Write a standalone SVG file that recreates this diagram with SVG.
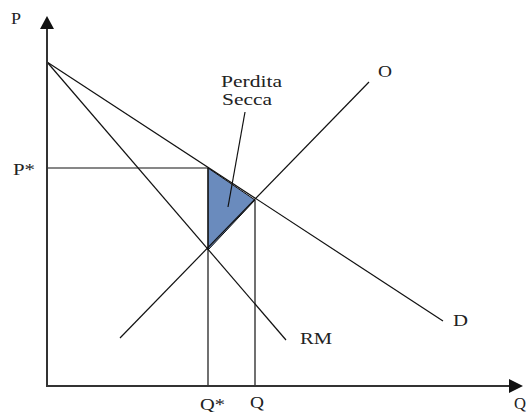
<svg xmlns="http://www.w3.org/2000/svg" width="528" height="412" viewBox="0 0 528 412">
<style>
.ax{stroke:#333;stroke-width:2;fill:none}
.ln{stroke:#111;stroke-width:1.2;fill:none}
.t{font-family:"Liberation Serif","Times New Roman",serif;font-size:16px;fill:#222}
</style>
<rect width="528" height="412" fill="#fff"/>
<g id="area">
<polygon points="208,168 255,200 208,250" fill="#6a8bbd" stroke="#111" stroke-width="1"/>
</g>
<g id="connectors">
<line class="ln" x1="47" y1="62" x2="443" y2="321"/>
<line class="ln" x1="47" y1="62" x2="286" y2="340"/>
<line class="ln" x1="120" y1="338" x2="369" y2="82"/>
<line class="ln" x1="47" y1="168" x2="208" y2="168"/>
<line class="ln" x1="208" y1="168" x2="208" y2="386"/>
<line class="ln" x1="255" y1="200" x2="255" y2="386"/>
<line class="ln" x1="245" y1="112" x2="228" y2="207"/>
</g>
<g id="axes">
<line class="ax" x1="47" y1="386" x2="47" y2="26"/>
<polygon points="47,16 40,29 54,29" fill="#111"/>
<line class="ax" x1="46" y1="386" x2="510" y2="386"/>
<polygon points="523,386 509,379 509,393" fill="#111"/>
</g>
<g id="labels">
<text class="t" x="11" y="24" textLength="10" lengthAdjust="spacingAndGlyphs">P</text>
<text class="t" x="13" y="175" textLength="22" lengthAdjust="spacingAndGlyphs">P*</text>
<text class="t" x="221" y="87" textLength="61" lengthAdjust="spacingAndGlyphs">Perdita</text>
<text class="t" x="222" y="105" textLength="50" lengthAdjust="spacingAndGlyphs">Secca</text>
<text class="t" x="378" y="77" textLength="14" lengthAdjust="spacingAndGlyphs">O</text>
<text class="t" x="453" y="326" textLength="15" lengthAdjust="spacingAndGlyphs">D</text>
<text class="t" x="300" y="344" textLength="32" lengthAdjust="spacingAndGlyphs">RM</text>
<text class="t" x="200" y="410" textLength="25" lengthAdjust="spacingAndGlyphs">Q*</text>
<text class="t" x="250" y="408" textLength="14" lengthAdjust="spacingAndGlyphs">Q</text>
<text class="t" x="514" y="409" textLength="12" lengthAdjust="spacingAndGlyphs">Q</text>
</g>
</svg>
